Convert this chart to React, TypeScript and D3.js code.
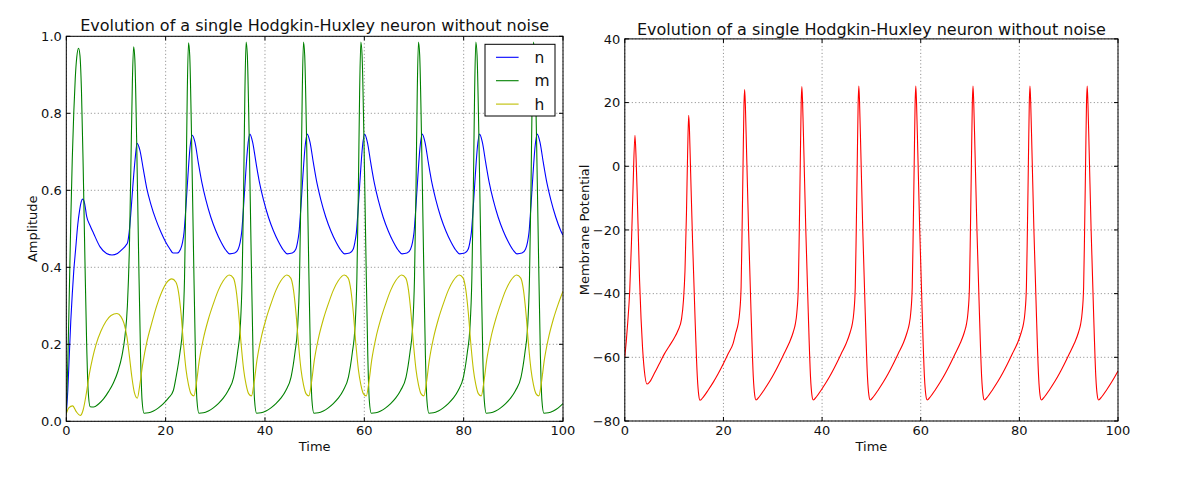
import React from 'react';
import * as d3 from 'd3';

const TITLE = 'Evolution of a single Hodgkin-Huxley neuron without noise';
const xTicks = [0, 20, 40, 60, 80, 100];
const xTickLabels = ['0', '20', '40', '60', '80', '100'];
const ampTicks = [0, 0.2, 0.4, 0.6, 0.8, 1.0];
const ampTickLabels = ['0.0', '0.2', '0.4', '0.6', '0.8', '1.0'];
const vTicks = [-80, -60, -40, -20, 0, 20, 40];
const vTickLabels = ['\u221280', '\u221260', '\u221240', '\u221220', '0', '20', '40'];
const legendLabels = ['n', 'm', 'h'];

// gating variable n (blue)
const nSeries: [number, number][] = [
  [0, 0.02], [0.3, 0.08], [0.6, 0.17], [0.9, 0.26], [1.2, 0.33], [1.5, 0.39], [1.9, 0.45], [2.3, 0.51], [2.7, 0.55], [3.0, 0.57], [3.3, 0.577], [3.7, 0.565], [4.1, 0.532], [4.8, 0.508], [5.5, 0.488], [6.8, 0.453], [8.1, 0.436], [9.2, 0.432], [10.3, 0.436], [11.3, 0.447], [12.0, 0.457], [12.35, 0.465],
  [12.65, 0.49], [13.05, 0.55], [13.45, 0.62], [13.85, 0.68], [14.25, 0.722], [14.8, 0.705], [15.5, 0.655], [16.2, 0.605], [17.0, 0.565], [18.0, 0.525], [19.0, 0.493], [20.0, 0.466], [20.8, 0.449], [21.5, 0.437], [22.3, 0.437], [23.0, 0.447], [23.4, 0.465],
  [23.7, 0.49], [24.1, 0.56], [24.5, 0.64], [24.9, 0.71], [25.35, 0.743], [25.9, 0.725], [26.6, 0.67], [27.3, 0.62], [28.1, 0.575], [29.1, 0.53], [30.1, 0.495], [31.1, 0.467], [32.1, 0.445], [32.9, 0.435], [33.9, 0.437], [34.6, 0.447], [35.0, 0.465],
  [35.3, 0.49], [35.7, 0.56], [36.1, 0.64], [36.5, 0.71], [36.95, 0.746], [37.5, 0.726], [38.2, 0.671], [38.9, 0.62], [39.7, 0.575], [40.7, 0.53], [41.7, 0.495], [42.7, 0.467], [43.7, 0.445], [44.5, 0.435], [45.5, 0.437], [46.2, 0.447], [46.55, 0.465],
  [46.85, 0.49], [47.25, 0.56], [47.65, 0.64], [48.05, 0.71], [48.5, 0.746], [49.05, 0.726], [49.75, 0.671], [50.45, 0.62], [51.25, 0.575], [52.25, 0.53], [53.25, 0.495], [54.25, 0.467], [55.25, 0.445], [56.05, 0.435], [57.05, 0.437], [57.75, 0.447], [58.1, 0.465],
  [58.4, 0.49], [58.8, 0.56], [59.2, 0.64], [59.6, 0.71], [60.05, 0.746], [60.6, 0.726], [61.3, 0.671], [62.0, 0.62], [62.8, 0.575], [63.8, 0.53], [64.8, 0.495], [65.8, 0.467], [66.8, 0.445], [67.6, 0.435], [68.6, 0.437], [69.3, 0.447], [69.7, 0.465],
  [70.0, 0.49], [70.4, 0.56], [70.8, 0.64], [71.2, 0.71], [71.65, 0.746], [72.2, 0.726], [72.9, 0.671], [73.6, 0.62], [74.4, 0.575], [75.4, 0.53], [76.4, 0.495], [77.4, 0.467], [78.4, 0.445], [79.2, 0.435], [80.2, 0.437], [80.9, 0.447], [81.25, 0.465],
  [81.55, 0.49], [81.95, 0.56], [82.35, 0.64], [82.75, 0.71], [83.2, 0.746], [83.75, 0.726], [84.45, 0.671], [85.15, 0.62], [85.95, 0.575], [86.95, 0.53], [87.95, 0.495], [88.95, 0.467], [89.95, 0.445], [90.75, 0.435], [91.75, 0.437], [92.45, 0.447], [92.85, 0.465],
  [93.15, 0.49], [93.55, 0.56], [93.95, 0.64], [94.35, 0.71], [94.8, 0.746], [95.35, 0.726], [96.05, 0.671], [96.75, 0.62], [97.55, 0.575], [98.55, 0.53], [99.55, 0.495], [100, 0.483],
];

// gating variable m (green)
const mSeries: [number, number][] = [
  [0, 0.02], [0.3, 0.15], [0.6, 0.33], [0.9, 0.52], [1.2, 0.68], [1.5, 0.8], [1.8, 0.89], [2.1, 0.945], [2.47, 0.969], [2.75, 0.95], [3.05, 0.86], [3.4, 0.66], [3.75, 0.42], [4.1, 0.2], [4.4, 0.08], [4.8, 0.038], [5.5, 0.037], [6.5, 0.045], [7.5, 0.058], [8.5, 0.077], [9.5, 0.1], [10.4, 0.13], [11.2, 0.17], [11.8, 0.22], [12.3, 0.3], [12.7, 0.45], [13.0, 0.66], [13.3, 0.88], [13.55, 0.973],
  [13.8, 0.94], [14.15, 0.74], [14.55, 0.44], [14.95, 0.17], [15.25, 0.055], [15.65, 0.021], [16.55, 0.022], [17.55, 0.027], [18.55, 0.035], [19.55, 0.046], [20.55, 0.06], [21.55, 0.08], [22.1, 0.115], [22.9, 0.18], [23.4, 0.24], [23.8, 0.37], [24.1, 0.6], [24.35, 0.85], [24.6, 0.983],
  [24.85, 0.95], [25.2, 0.75], [25.6, 0.45], [26.0, 0.17], [26.3, 0.055], [26.7, 0.021], [27.6, 0.022], [28.6, 0.027], [29.6, 0.035], [30.6, 0.046], [31.6, 0.06], [32.6, 0.08], [33.7, 0.115], [34.5, 0.18], [35.0, 0.24], [35.4, 0.37], [35.7, 0.6], [35.95, 0.85], [36.2, 0.985],
  [36.45, 0.95], [36.8, 0.75], [37.2, 0.45], [37.6, 0.17], [37.9, 0.055], [38.3, 0.021], [39.2, 0.022], [40.2, 0.027], [41.2, 0.035], [42.2, 0.046], [43.2, 0.06], [44.2, 0.08], [45.25, 0.115], [46.05, 0.18], [46.55, 0.24], [46.95, 0.37], [47.25, 0.6], [47.5, 0.85], [47.75, 0.985],
  [48.0, 0.95], [48.35, 0.75], [48.75, 0.45], [49.15, 0.17], [49.45, 0.055], [49.85, 0.021], [50.75, 0.022], [51.75, 0.027], [52.75, 0.035], [53.75, 0.046], [54.75, 0.06], [55.75, 0.08], [56.8, 0.115], [57.6, 0.18], [58.1, 0.24], [58.5, 0.37], [58.8, 0.6], [59.05, 0.85], [59.3, 0.985],
  [59.55, 0.95], [59.9, 0.75], [60.3, 0.45], [60.7, 0.17], [61.0, 0.055], [61.4, 0.021], [62.3, 0.022], [63.3, 0.027], [64.3, 0.035], [65.3, 0.046], [66.3, 0.06], [67.3, 0.08], [68.4, 0.115], [69.2, 0.18], [69.7, 0.24], [70.1, 0.37], [70.4, 0.6], [70.65, 0.85], [70.9, 0.985],
  [71.15, 0.95], [71.5, 0.75], [71.9, 0.45], [72.3, 0.17], [72.6, 0.055], [73.0, 0.021], [73.9, 0.022], [74.9, 0.027], [75.9, 0.035], [76.9, 0.046], [77.9, 0.06], [78.9, 0.08], [79.95, 0.115], [80.75, 0.18], [81.25, 0.24], [81.65, 0.37], [81.95, 0.6], [82.2, 0.85], [82.45, 0.985],
  [82.7, 0.95], [83.05, 0.75], [83.45, 0.45], [83.85, 0.17], [84.15, 0.055], [84.55, 0.021], [85.45, 0.022], [86.45, 0.027], [87.45, 0.035], [88.45, 0.046], [89.45, 0.06], [90.45, 0.08], [91.55, 0.115], [92.35, 0.18], [92.85, 0.24], [93.25, 0.37], [93.55, 0.6], [93.8, 0.85], [94.05, 0.985],
  [94.3, 0.95], [94.65, 0.75], [95.05, 0.45], [95.45, 0.17], [95.75, 0.055], [96.15, 0.021], [97.05, 0.022], [98.05, 0.027], [99.05, 0.035], [100, 0.046],
];

// gating variable h (yellow)
const hSeries: [number, number][] = [
  [0, 0.02], [0.5, 0.035], [1.27, 0.04], [2.0, 0.025], [2.8, 0.015], [3.4, 0.03], [4.0, 0.07], [4.6, 0.12], [5.3, 0.165], [6.0, 0.2], [7.0, 0.235], [8.0, 0.26], [9.0, 0.275], [10.2, 0.28], [11.0, 0.272], [11.6, 0.255], [12.2, 0.22], [12.7, 0.17], [13.2, 0.115], [13.7, 0.075], [14.3, 0.06],
  [14.8, 0.095], [15.4, 0.15], [16.2, 0.205], [17.2, 0.255], [18.2, 0.3], [19.2, 0.335], [20.2, 0.36], [21.25, 0.37], [22.05, 0.362], [22.6, 0.335], [23.1, 0.28], [23.6, 0.2], [24.1, 0.135], [24.6, 0.095], [25.1, 0.072], [25.7, 0.066],
  [26.2, 0.1], [26.8, 0.16], [27.6, 0.215], [28.6, 0.265], [29.6, 0.305], [30.6, 0.34], [31.6, 0.365], [32.8, 0.38], [33.65, 0.372], [34.2, 0.34], [34.7, 0.28], [35.2, 0.2], [35.7, 0.135], [36.2, 0.095], [36.7, 0.072], [37.3, 0.066],
  [37.8, 0.1], [38.4, 0.16], [39.2, 0.215], [40.2, 0.265], [41.2, 0.305], [42.2, 0.34], [43.2, 0.365], [44.4, 0.38], [45.2, 0.372], [45.75, 0.34], [46.25, 0.28], [46.75, 0.2], [47.25, 0.135], [47.75, 0.095], [48.25, 0.072], [48.85, 0.066],
  [49.35, 0.1], [49.95, 0.16], [50.75, 0.215], [51.75, 0.265], [52.75, 0.305], [53.75, 0.34], [54.75, 0.365], [55.95, 0.38], [56.75, 0.372], [57.3, 0.34], [57.8, 0.28], [58.3, 0.2], [58.8, 0.135], [59.3, 0.095], [59.8, 0.072], [60.4, 0.066],
  [60.9, 0.1], [61.5, 0.16], [62.3, 0.215], [63.3, 0.265], [64.3, 0.305], [65.3, 0.34], [66.3, 0.365], [67.5, 0.38], [68.35, 0.372], [68.9, 0.34], [69.4, 0.28], [69.9, 0.2], [70.4, 0.135], [70.9, 0.095], [71.4, 0.072], [72.0, 0.066],
  [72.5, 0.1], [73.1, 0.16], [73.9, 0.215], [74.9, 0.265], [75.9, 0.305], [76.9, 0.34], [77.9, 0.365], [79.1, 0.38], [79.9, 0.372], [80.45, 0.34], [80.95, 0.28], [81.45, 0.2], [81.95, 0.135], [82.45, 0.095], [82.95, 0.072], [83.55, 0.066],
  [84.05, 0.1], [84.65, 0.16], [85.45, 0.215], [86.45, 0.265], [87.45, 0.305], [88.45, 0.34], [89.45, 0.365], [90.65, 0.38], [91.5, 0.372], [92.05, 0.34], [92.55, 0.28], [93.05, 0.2], [93.55, 0.135], [94.05, 0.095], [94.55, 0.072], [95.15, 0.066],
  [95.65, 0.1], [96.25, 0.16], [97.05, 0.215], [98.05, 0.265], [99.05, 0.305], [100, 0.338],
];

// membrane potential (red)
const vSeries: [number, number][] = [
  [0, -60], [0.3, -55], [0.6, -49], [1.0, -39], [1.35, -24], [1.65, -8], [2.06, 9.7], [2.3, 2], [2.5, -8], [2.8, -25], [3.0, -36], [3.3, -48], [3.6, -57], [3.95, -64], [4.5, -68.4], [5.0, -67.8], [6.0, -65], [7.0, -62], [8.0, -59], [9.0, -56.5], [10.0, -54], [10.8, -51.5], [11.5, -48], [11.9, -42], [12.2, -33], [12.5, -15], [12.75, 5], [12.95, 16],
  [13.1, 12], [13.35, -2], [13.75, -24], [14.25, -48], [14.7, -66], [15.0, -72], [15.25, -73.5], [15.95, -72.4], [16.95, -70.2], [17.95, -67.8], [18.95, -65.1], [19.95, -62.1], [20.95, -58.9], [21.95, -55.7], [22.53, -52.2], [22.98, -49.5], [23.28, -46], [23.58, -38], [23.78, -20], [23.98, 1], [24.16, 19], [24.3, 24.1],
  [24.45, 19], [24.7, 4], [25.1, -20], [25.6, -46], [26.05, -66], [26.35, -72], [26.6, -73.4], [27.3, -72.3], [28.3, -70.1], [29.3, -67.7], [30.3, -65.0], [31.3, -62.0], [32.3, -58.8], [33.3, -55.6], [34.13, -52.2], [34.58, -49.5], [34.88, -46], [35.18, -38], [35.38, -20], [35.58, 1], [35.76, 19.5], [35.9, 25],
  [36.05, 20], [36.3, 5], [36.7, -20], [37.2, -46], [37.65, -66], [37.95, -72], [38.2, -73.4], [38.9, -72.3], [39.9, -70.1], [40.9, -67.7], [41.9, -65.0], [42.9, -62.0], [43.9, -58.8], [44.9, -55.6], [45.68, -52.2], [46.13, -49.5], [46.43, -46], [46.73, -38], [46.93, -20], [47.13, 1], [47.31, 19.5], [47.45, 25.2],
  [47.6, 20], [47.85, 5], [48.25, -20], [48.75, -46], [49.2, -66], [49.5, -72], [49.75, -73.4], [50.45, -72.3], [51.45, -70.1], [52.45, -67.7], [53.45, -65.0], [54.45, -62.0], [55.45, -58.8], [56.45, -55.6], [57.23, -52.2], [57.68, -49.5], [57.98, -46], [58.28, -38], [58.48, -20], [58.68, 1], [58.86, 19.5], [59.0, 25.2],
  [59.15, 20], [59.4, 5], [59.8, -20], [60.3, -46], [60.75, -66], [61.05, -72], [61.3, -73.4], [62.0, -72.3], [63.0, -70.1], [64.0, -67.7], [65.0, -65.0], [66.0, -62.0], [67.0, -58.8], [68.0, -55.6], [68.83, -52.2], [69.28, -49.5], [69.58, -46], [69.88, -38], [70.08, -20], [70.28, 1], [70.46, 19.5], [70.6, 25.2],
  [70.75, 20], [71.0, 5], [71.4, -20], [71.9, -46], [72.35, -66], [72.65, -72], [72.9, -73.4], [73.6, -72.3], [74.6, -70.1], [75.6, -67.7], [76.6, -65.0], [77.6, -62.0], [78.6, -58.8], [79.6, -55.6], [80.38, -52.2], [80.83, -49.5], [81.13, -46], [81.43, -38], [81.63, -20], [81.83, 1], [82.01, 19.5], [82.15, 25.2],
  [82.3, 20], [82.55, 5], [82.95, -20], [83.45, -46], [83.9, -66], [84.2, -72], [84.45, -73.4], [85.15, -72.3], [86.15, -70.1], [87.15, -67.7], [88.15, -65.0], [89.15, -62.0], [90.15, -58.8], [91.15, -55.6], [91.98, -52.2], [92.43, -49.5], [92.73, -46], [93.03, -38], [93.23, -20], [93.43, 1], [93.61, 19.5], [93.75, 25.2],
  [93.9, 20], [94.15, 5], [94.55, -20], [95.05, -46], [95.5, -66], [95.8, -72], [96.05, -73.4], [96.75, -72.3], [97.75, -70.1], [98.75, -67.7], [99.75, -65.0], [100, -64.3],
];

const FONT = 'DejaVu Sans, sans-serif';

type Box = { x0: number; x1: number; y0: number; y1: number };

function Axes({ box, yDomain, yTicks, yLabels, yTitle, yTitleX, titleY, id, children }: {
  box: Box; yDomain: [number, number]; yTicks: number[]; yLabels: string[]; yTitle: string; yTitleX: number; titleY: number; id: string;
  children: (x: d3.ScaleLinear<number, number>, y: d3.ScaleLinear<number, number>) => React.ReactNode;
}) {
  const x = d3.scaleLinear().domain([0, 100]).range([box.x0, box.x1]);
  const y = d3.scaleLinear().domain(yDomain).range([box.y1, box.y0]);
  const cx = (box.x0 + box.x1) / 2;
  const cy = (box.y0 + box.y1) / 2;
  const tl = 4;
  return (
    <g>
      <defs>
        <clipPath id={id}>
          <rect x={box.x0} y={box.y0} width={box.x1 - box.x0} height={box.y1 - box.y0} />
        </clipPath>
      </defs>
      {/* grid */}
      <g stroke="#000" strokeWidth={0.6} strokeDasharray="1,2.5" opacity={0.8}>
        {xTicks.map((t) => (
          <line key={'gx' + t} x1={x(t)} x2={x(t)} y1={box.y0} y2={box.y1} />
        ))}
        {yTicks.map((t) => (
          <line key={'gy' + t} x1={box.x0} x2={box.x1} y1={y(t)} y2={y(t)} />
        ))}
      </g>
      <g clipPath={`url(#${id})`}>{children(x, y)}</g>
      {/* ticks */}
      <g stroke="#000" strokeWidth={1}>
        {xTicks.map((t) => (
          <g key={'tx' + t}>
            <line x1={x(t)} x2={x(t)} y1={box.y1} y2={box.y1 - tl} />
            <line x1={x(t)} x2={x(t)} y1={box.y0} y2={box.y0 + tl} />
          </g>
        ))}
        {yTicks.map((t) => (
          <g key={'ty' + t}>
            <line x1={box.x0} x2={box.x0 + tl} y1={y(t)} y2={y(t)} />
            <line x1={box.x1} x2={box.x1 - tl} y1={y(t)} y2={y(t)} />
          </g>
        ))}
      </g>
      <rect x={box.x0} y={box.y0} width={box.x1 - box.x0} height={box.y1 - box.y0} fill="none" stroke="#000" strokeWidth={1} />
      {/* tick labels */}
      <g fontFamily={FONT} fontSize={13} fill="#111">
        {xTicks.map((t, i) => (
          <text key={'lx' + t} x={x(t)} y={box.y1 + 14} textAnchor="middle">{xTickLabels[i]}</text>
        ))}
        {yTicks.map((t, i) => (
          <text key={'ly' + t} x={box.x0 - 4.5} y={y(t) + 4.7} textAnchor="end">{yLabels[i]}</text>
        ))}
      </g>
      <text x={cx} y={box.y1 + 29.5} textAnchor="middle" fontFamily={FONT} fontSize={13} fill="#111">Time</text>
      <text transform={`translate(${yTitleX},${cy}) rotate(-90)`} textAnchor="middle" fontFamily={FONT} fontSize={13} fill="#111">{yTitle}</text>
      <text x={cx} y={titleY} textAnchor="middle" fontFamily={FONT} fontSize={16} fill="#111">{TITLE}</text>
    </g>
  );
}

export default function App() {
  const left: Box = { x0: 66.3, x1: 563, y0: 36.3, y1: 421.3 };
  const right: Box = { x0: 624.8, x1: 1118, y0: 38.9, y1: 421 };
  const colors = ['#0000ff', '#008000', '#bfbf00'];
  const gates = [nSeries, mSeries, hSeries];
  return (
    <svg width={1200} height={480} style={{ position: 'absolute', left: 0, top: 0, background: '#fff' }}>
      <rect x={0} y={0} width={1200} height={480} fill="#fff" />
      <Axes box={left} yDomain={[0, 1]} yTicks={ampTicks} yLabels={ampTickLabels} yTitle="Amplitude" yTitleX={37} titleY={30.5} id="clipL">
        {(x, y) => {
          const line = d3.line<[number, number]>().x((d) => x(d[0])).y((d) => y(d[1])).curve(d3.curveMonotoneX);
          return (
            <g>
              {gates.map((s, i) => (
                <path key={i} d={line(s) || ''} fill="none" stroke={colors[i]} strokeWidth={1.1} />
              ))}
            </g>
          );
        }}
      </Axes>
      {/* legend */}
      <g>
        <rect x={485} y={44.3} width={70} height={71.7} fill="#fff" stroke="#000" strokeWidth={1} />
        {legendLabels.map((lab, i) => (
          <g key={lab}>
            <line x1={496} x2={518.6} y1={57.3 + i * 23.4} y2={57.3 + i * 23.4} stroke={colors[i]} strokeWidth={1.1} />
            <text x={534.5} y={57.3 + i * 23.4 + 5.5} fontFamily={FONT} fontSize={15.5} fill="#111">{lab}</text>
          </g>
        ))}
      </g>
      <Axes box={right} yDomain={[-80, 40]} yTicks={vTicks} yLabels={vTickLabels} yTitle="Membrane Potential" yTitleX={589} titleY={34.5} id="clipR">
        {(x, y) => {
          const line = d3.line<[number, number]>().x((d) => x(d[0])).y((d) => y(d[1])).curve(d3.curveMonotoneX);
          return <path d={line(vSeries) || ''} fill="none" stroke="#ff0000" strokeWidth={1.1} />;
        }}
      </Axes>
    </svg>
  );
}
